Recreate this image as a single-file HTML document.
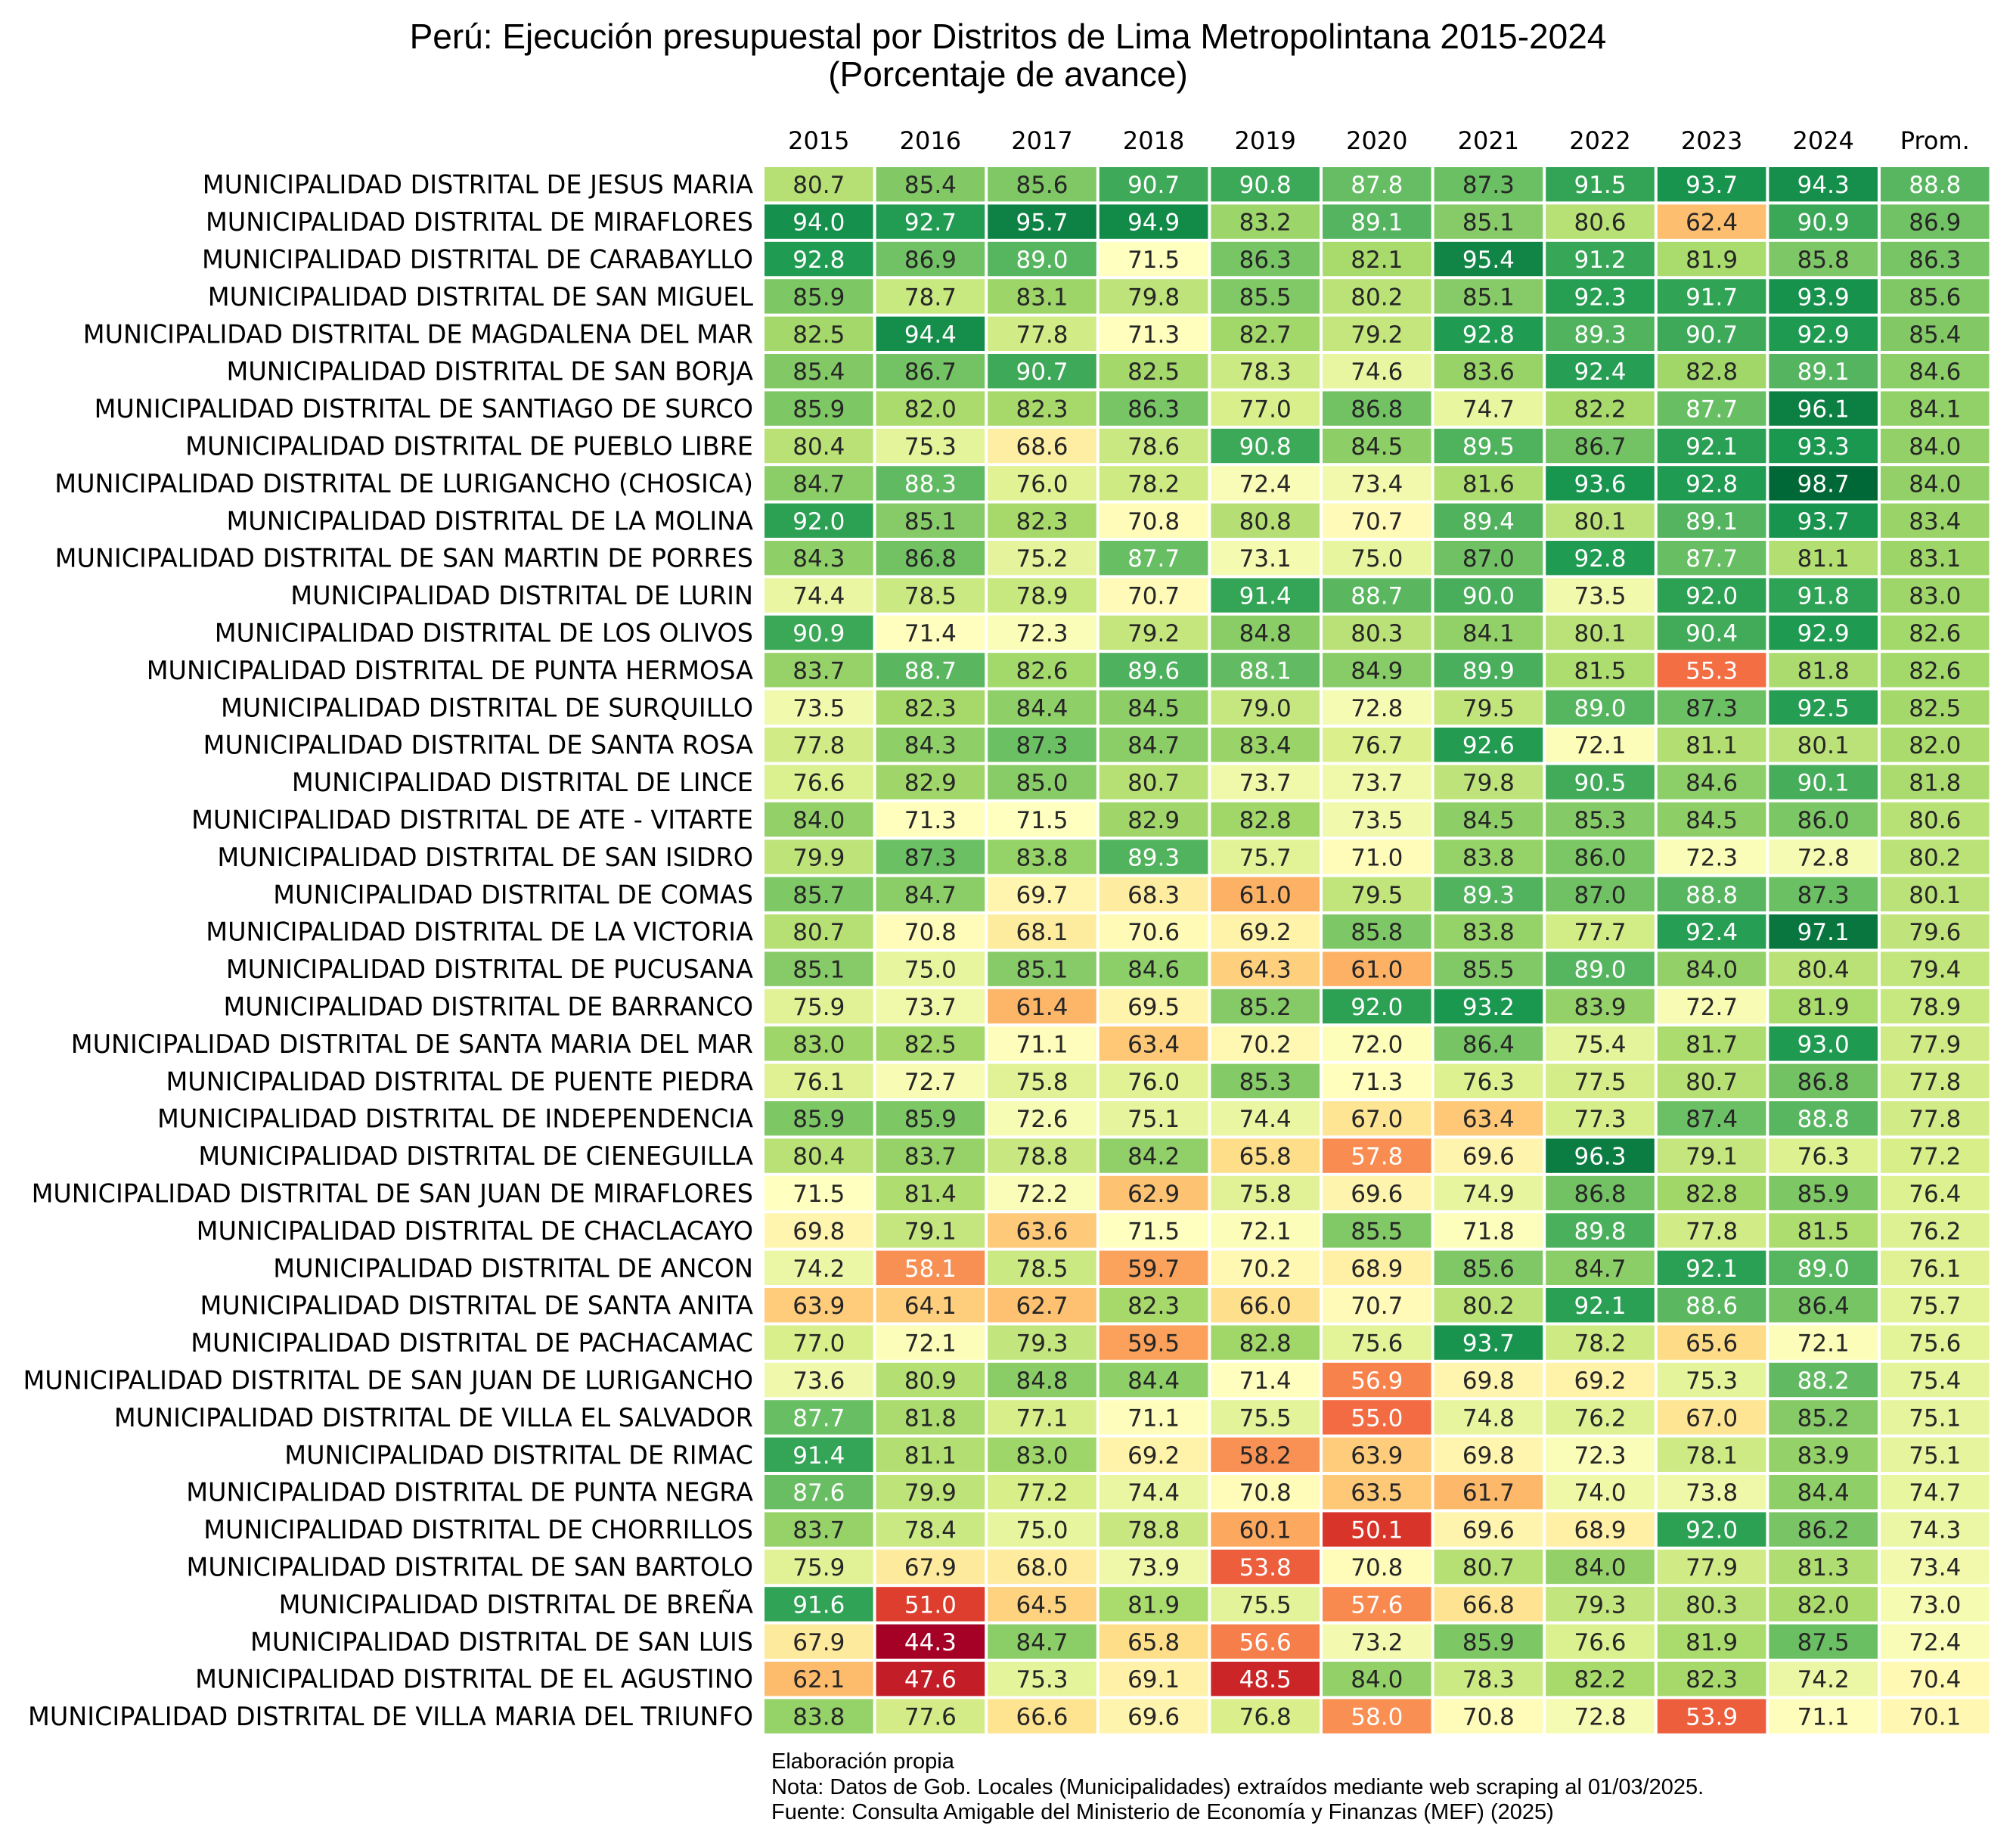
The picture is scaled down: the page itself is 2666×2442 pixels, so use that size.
<!DOCTYPE html>
<html><head><meta charset="utf-8">
<style>
html,body{margin:0;padding:0;background:#fff;}
svg{display:block;}
</style></head>
<body>
<svg id="chart" width="2666" height="2442" xmlns="http://www.w3.org/2000/svg">
<text x="1333" y="64" text-anchor="middle" font-family="Liberation Sans, Arial, sans-serif" font-size="46" fill="#000">Perú: Ejecución presupuestal por Distritos de Lima Metropolintana 2015-2024</text>
<text x="1333" y="114" text-anchor="middle" font-family="Liberation Sans, Arial, sans-serif" font-size="46" fill="#000">(Porcentaje de avance)</text>
<g id="cells"></g>
<g font-family="Liberation Sans, Arial, sans-serif" font-size="29" fill="#000">
<text x="1020" y="2338">Elaboración propia</text>
<text x="1020" y="2372">Nota: Datos de Gob. Locales (Municipalidades) extraídos mediante web scraping al 01/03/2025.</text>
<text x="1020" y="2405">Fuente: Consulta Amigable del Ministerio de Economía y Finanzas (MEF) (2025)</text>
</g>
</svg>
<script>
const columns = ["2015","2016","2017","2018","2019","2020","2021","2022","2023","2024","Prom."];
const districts = ["JESUS MARIA","MIRAFLORES","CARABAYLLO","SAN MIGUEL","MAGDALENA DEL MAR","SAN BORJA","SANTIAGO DE SURCO","PUEBLO LIBRE","LURIGANCHO (CHOSICA)","LA MOLINA","SAN MARTIN DE PORRES","LURIN","LOS OLIVOS","PUNTA HERMOSA","SURQUILLO","SANTA ROSA","LINCE","ATE - VITARTE","SAN ISIDRO","COMAS","LA VICTORIA","PUCUSANA","BARRANCO","SANTA MARIA DEL MAR","PUENTE PIEDRA","INDEPENDENCIA","CIENEGUILLA","SAN JUAN DE MIRAFLORES","CHACLACAYO","ANCON","SANTA ANITA","PACHACAMAC","SAN JUAN DE LURIGANCHO","VILLA EL SALVADOR","RIMAC","PUNTA NEGRA","CHORRILLOS","SAN BARTOLO","BREÑA","SAN LUIS","EL AGUSTINO","VILLA MARIA DEL TRIUNFO"];
const values = [
[80.7,85.4,85.6,90.7,90.8,87.8,87.3,91.5,93.7,94.3,88.8],
[94.0,92.7,95.7,94.9,83.2,89.1,85.1,80.6,62.4,90.9,86.9],
[92.8,86.9,89.0,71.5,86.3,82.1,95.4,91.2,81.9,85.8,86.3],
[85.9,78.7,83.1,79.8,85.5,80.2,85.1,92.3,91.7,93.9,85.6],
[82.5,94.4,77.8,71.3,82.7,79.2,92.8,89.3,90.7,92.9,85.4],
[85.4,86.7,90.7,82.5,78.3,74.6,83.6,92.4,82.8,89.1,84.6],
[85.9,82.0,82.3,86.3,77.0,86.8,74.7,82.2,87.7,96.1,84.1],
[80.4,75.3,68.6,78.6,90.8,84.5,89.5,86.7,92.1,93.3,84.0],
[84.7,88.3,76.0,78.2,72.4,73.4,81.6,93.6,92.8,98.7,84.0],
[92.0,85.1,82.3,70.8,80.8,70.7,89.4,80.1,89.1,93.7,83.4],
[84.3,86.8,75.2,87.7,73.1,75.0,87.0,92.8,87.7,81.1,83.1],
[74.4,78.5,78.9,70.7,91.4,88.7,90.0,73.5,92.0,91.8,83.0],
[90.9,71.4,72.3,79.2,84.8,80.3,84.1,80.1,90.4,92.9,82.6],
[83.7,88.7,82.6,89.6,88.1,84.9,89.9,81.5,55.3,81.8,82.6],
[73.5,82.3,84.4,84.5,79.0,72.8,79.5,89.0,87.3,92.5,82.5],
[77.8,84.3,87.3,84.7,83.4,76.7,92.6,72.1,81.1,80.1,82.0],
[76.6,82.9,85.0,80.7,73.7,73.7,79.8,90.5,84.6,90.1,81.8],
[84.0,71.3,71.5,82.9,82.8,73.5,84.5,85.3,84.5,86.0,80.6],
[79.9,87.3,83.8,89.3,75.7,71.0,83.8,86.0,72.3,72.8,80.2],
[85.7,84.7,69.7,68.3,61.0,79.5,89.3,87.0,88.8,87.3,80.1],
[80.7,70.8,68.1,70.6,69.2,85.8,83.8,77.7,92.4,97.1,79.6],
[85.1,75.0,85.1,84.6,64.3,61.0,85.5,89.0,84.0,80.4,79.4],
[75.9,73.7,61.4,69.5,85.2,92.0,93.2,83.9,72.7,81.9,78.9],
[83.0,82.5,71.1,63.4,70.2,72.0,86.4,75.4,81.7,93.0,77.9],
[76.1,72.7,75.8,76.0,85.3,71.3,76.3,77.5,80.7,86.8,77.8],
[85.9,85.9,72.6,75.1,74.4,67.0,63.4,77.3,87.4,88.8,77.8],
[80.4,83.7,78.8,84.2,65.8,57.8,69.6,96.3,79.1,76.3,77.2],
[71.5,81.4,72.2,62.9,75.8,69.6,74.9,86.8,82.8,85.9,76.4],
[69.8,79.1,63.6,71.5,72.1,85.5,71.8,89.8,77.8,81.5,76.2],
[74.2,58.1,78.5,59.7,70.2,68.9,85.6,84.7,92.1,89.0,76.1],
[63.9,64.1,62.7,82.3,66.0,70.7,80.2,92.1,88.6,86.4,75.7],
[77.0,72.1,79.3,59.5,82.8,75.6,93.7,78.2,65.6,72.1,75.6],
[73.6,80.9,84.8,84.4,71.4,56.9,69.8,69.2,75.3,88.2,75.4],
[87.7,81.8,77.1,71.1,75.5,55.0,74.8,76.2,67.0,85.2,75.1],
[91.4,81.1,83.0,69.2,58.2,63.9,69.8,72.3,78.1,83.9,75.1],
[87.6,79.9,77.2,74.4,70.8,63.5,61.7,74.0,73.8,84.4,74.7],
[83.7,78.4,75.0,78.8,60.1,50.1,69.6,68.9,92.0,86.2,74.3],
[75.9,67.9,68.0,73.9,53.8,70.8,80.7,84.0,77.9,81.3,73.4],
[91.6,51.0,64.5,81.9,75.5,57.6,66.8,79.3,80.3,82.0,73.0],
[67.9,44.3,84.7,65.8,56.6,73.2,85.9,76.6,81.9,87.5,72.4],
[62.1,47.6,75.3,69.1,48.5,84.0,78.3,82.2,82.3,74.2,70.4],
[83.8,77.6,66.6,69.6,76.8,58.0,70.8,72.8,53.9,71.1,70.1]
];

const X0 = 1011, Y0 = 221, CW = 147.6, RH = 49.4, GAP = 4;
const stops = ["#a50026","#d73027","#f46d43","#fdae61","#fee08b","#ffffbf","#d9ef8b","#a6d96a","#66bd63","#1a9850","#006837"].map(h=>[parseInt(h.substr(1,2),16),parseInt(h.substr(3,2),16),parseInt(h.substr(5,2),16)]);
let vmin = Infinity, vmax = -Infinity;
values.forEach(r=>r.forEach(v=>{if(v<vmin)vmin=v;if(v>vmax)vmax=v;}));
function color(v){
  let t=(v-vmin)/(vmax-vmin); t=Math.max(0,Math.min(1,t));
  const p=t*(stops.length-1); const i=Math.min(Math.floor(p),stops.length-2); const f=p-i;
  return stops[i].map((c,k)=>Math.round(c+(stops[i+1][k]-c)*f));
}
function lum(rgb){
  const l=rgb.map(c=>{c/=255;return c<=0.03928?c/12.92:Math.pow((c+0.055)/1.055,2.4);});
  return 0.2126*l[0]+0.7152*l[1]+0.0722*l[2];
}
function xPos(j){return X0+j*CW;}
function yPos(i){return Y0+i*RH;}
const NS="http://www.w3.org/2000/svg";
const g=document.getElementById('cells');
columns.forEach((c,j)=>{
  const t=document.createElementNS(NS,'text');
  
  
  t.setAttribute('x',xPos(j)+(CW-GAP)/2); t.setAttribute('y',197);
  t.setAttribute('text-anchor','middle');
  t.setAttribute('font-family','DejaVu Sans, sans-serif'); t.setAttribute('font-size','32');
  t.textContent=c; g.appendChild(t);
});
districts.forEach((d,i)=>{
  const t=document.createElementNS(NS,'text');
  
  
  t.setAttribute('x',996); t.setAttribute('y',yPos(i)+(RH-GAP)/2+12);
  t.setAttribute('text-anchor','end');
  t.setAttribute('font-family','DejaVu Sans, sans-serif'); t.setAttribute('font-size','33.4');
  t.textContent='MUNICIPALIDAD DISTRITAL DE '+d; g.appendChild(t);
  values[i].forEach((v,j)=>{
    const rgb=color(v);
    const r=document.createElementNS(NS,'rect');
    
    
    r.setAttribute('x',xPos(j)); r.setAttribute('y',yPos(i));
    r.setAttribute('width',CW-GAP); r.setAttribute('height',RH-GAP);
    r.setAttribute('fill','rgb('+rgb.join(',')+')');
    g.appendChild(r);
    const tx=document.createElementNS(NS,'text');
    
    
    tx.setAttribute('x',xPos(j)+(CW-GAP)/2); tx.setAttribute('y',yPos(i)+(RH-GAP)/2+11.5);
    tx.setAttribute('text-anchor','middle');
    tx.setAttribute('font-family','DejaVu Sans, sans-serif'); tx.setAttribute('font-size','31');
    tx.setAttribute('fill',lum(rgb)<0.408?'#ffffff':'#262626');
    tx.textContent=v.toFixed(1); g.appendChild(tx);
  });
});
</script>
</body></html>
